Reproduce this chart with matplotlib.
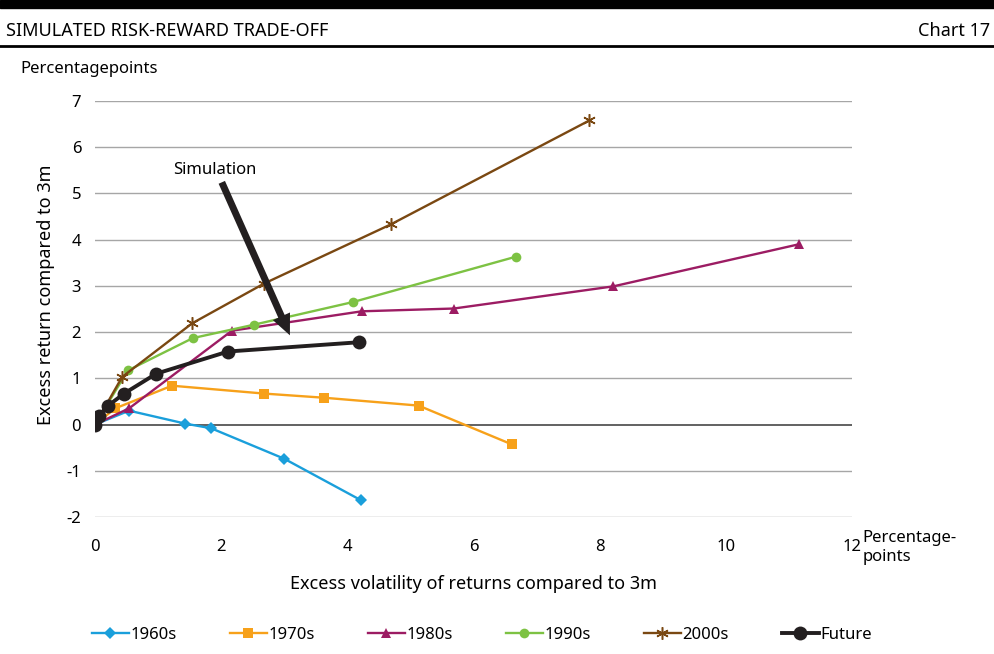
import matplotlib.pyplot as plt
from matplotlib.lines import Line2D

plt.rcParams['font.family'] = ['Noto Sans', 'DejaVu Sans']

# data (x = excess volatility, y = excess return)
x_1960s = [0, 0.54, 1.43, 1.84, 3.0, 4.22]
y_1960s = [0, 0.30, 0.02, -0.08, -0.74, -1.64]

x_1970s = [0, 0.32, 1.22, 2.68, 3.63, 5.13, 6.61]
y_1970s = [0, 0.35, 0.84, 0.67, 0.58, 0.41, -0.43]

x_1980s = [0, 0.54, 2.17, 4.23, 5.69, 8.22, 11.16]
y_1980s = [0, 0.35, 2.03, 2.45, 2.51, 2.99, 3.90]

x_1990s = [0, 0.52, 1.55, 2.52, 4.09, 6.67]
y_1990s = [0, 1.17, 1.87, 2.16, 2.65, 3.63]

x_2000s = [0, 0.43, 1.54, 2.68, 4.69, 7.84]
y_2000s = [0, 1.03, 2.19, 3.05, 4.33, 6.58]

x_future = [0, 0.06, 0.21, 0.46, 0.97, 2.11, 4.18]
y_future = [0, 0.19, 0.41, 0.67, 1.10, 1.58, 1.78]

series = [
    ("1960s", x_1960s, y_1960s, "#1A9FDB", "D", 6, 1.7),
    ("1970s", x_1970s, y_1970s, "#F7A11A", "s", 7, 1.7),
    ("1980s", x_1980s, y_1980s, "#9C1C63", "^", 7, 1.7),
    ("1990s", x_1990s, y_1990s, "#7DC243", "o", 7, 1.7),
    ("2000s", x_2000s, y_2000s, "#7A4812", (6, 2, 0), 9, 1.7),
    ("Future", x_future, y_future, "#231F20", "o", 10, 2.8),
]

fig = plt.figure(figsize=(9.94, 6.54), dpi=100)
ax = fig.add_axes([0.0956, 0.2095, 0.7614, 0.6361])

for name, xs, ys, col, mk, ms, lw in series:
    ax.plot(xs, ys, color=col, marker=mk, markersize=ms, linewidth=lw,
            markeredgewidth=1.1 if isinstance(mk, tuple) else 0, label=name, zorder=3)

ax.set_xlim(0, 12)
ax.set_ylim(-2, 7)
ax.set_xticks(range(0, 13, 2))
ax.set_yticks(range(-2, 8))
ax.set_yticklabels([str(v) for v in range(-2, 8)])
for v in range(-2, 8):
    ax.axhline(v, color="#555555" if v == 0 else "#A6A6A6",
               linewidth=1.3 if v == 0 else 1.0, zorder=1)
for s in ax.spines.values():
    s.set_visible(False)
ax.tick_params(length=0, labelsize=12)
ax.tick_params(axis="y", pad=10)
ax.tick_params(axis="x", pad=16)

ax.set_ylabel("Excess return compared to 3m", fontsize=13)
ax.yaxis.set_label_coords(-0.053, 0.535)
ax.set_xlabel("Excess volatility of returns compared to 3m", fontsize=13, labelpad=14)

# simulation arrow
ax.annotate("", xy=(3.09, 1.93), xytext=(2.01, 5.24),
            arrowprops=dict(arrowstyle="simple,head_length=1.5,head_width=1.35,tail_width=0.5",
                            mutation_scale=10, color="#231F20", lw=0,
                            shrinkA=0, shrinkB=0), zorder=4)
ax.text(1.9, 5.5, "Simulation", fontsize=12, ha="center", va="center")

# header
fig.patches.append(plt.Rectangle((0, 0.988), 1, 0.012, transform=fig.transFigure,
                                 color="black"))
fig.add_artist(Line2D([0, 1], [0.929, 0.929], color="black", lw=2))
fig.text(0.006, 0.953, "SIMULATED RISK-REWARD TRADE-OFF", fontsize=13, va="center")
fig.text(0.996, 0.953, "Chart 17", fontsize=13, va="center", ha="right")
fig.text(0.02, 0.895, "Percentagepoints", fontsize=12, va="center")
fig.text(0.868, 0.163, "Percentage-\npoints", fontsize=12, va="center",
         linespacing=1.25)

fig.legend(loc="center", bbox_to_anchor=(0.485, 0.029), ncol=6, frameon=False,
           fontsize=12, handlelength=2.2, handletextpad=0.1, columnspacing=3.2)

fig.savefig("out.png", dpi=100)
